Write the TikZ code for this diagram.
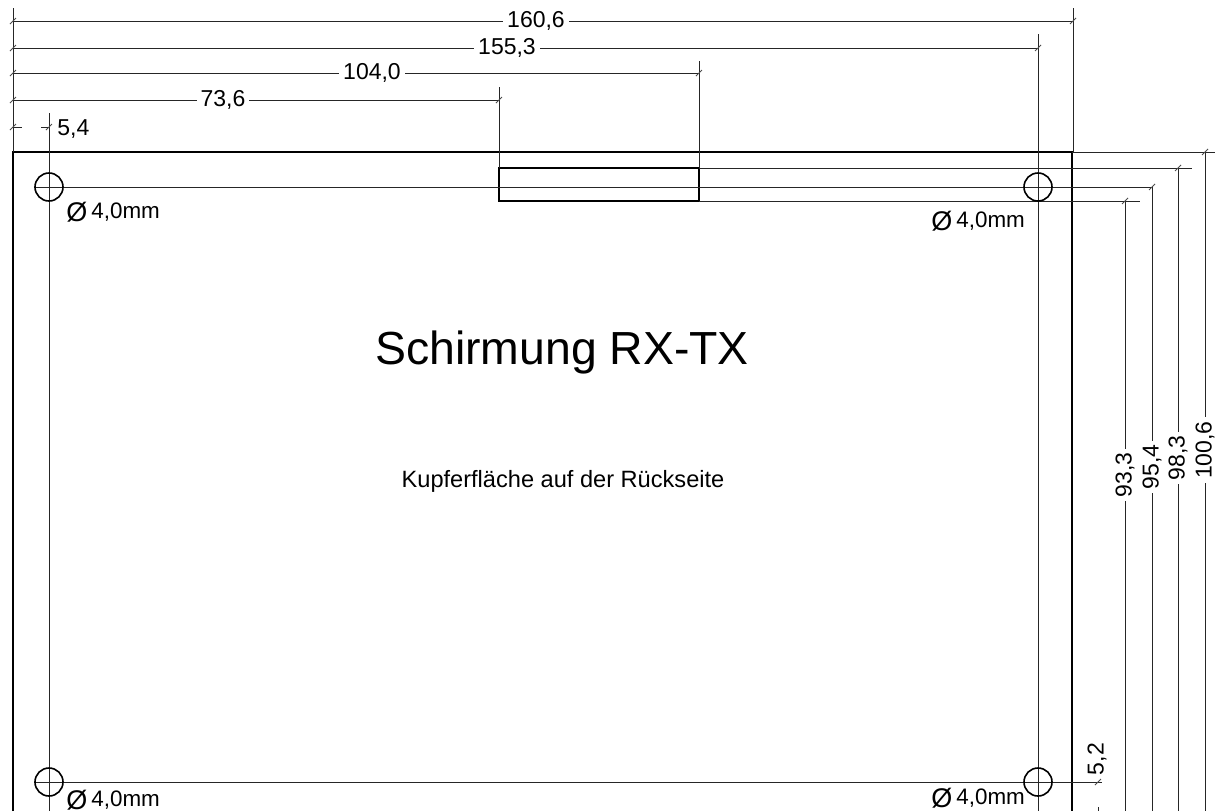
\documentclass[tikz,border=0pt]{standalone}
\usepackage{fontspec}
\setmainfont{Liberation Sans}
\newcommand{\holedia}{\raisebox{-1.5pt}{\fontsize{13.5}{12}\selectfont Ø}\hspace{2pt}4,0mm}
\tikzset{
  dimline/.style={line width=0.5pt, color=black!85},
  tickline/.style={line width=0.4pt, color=black!70},
  outline/.style={line width=1pt},
  dimlabel/.style={fill=white, inner xsep=2pt, inner ysep=0pt, font=\fontsize{11.5}{12}\selectfont},
  holelabel/.style={anchor=west, inner sep=0pt, font=\fontsize{11.2}{12}\selectfont},
}
\begin{document}
\begin{tikzpicture}[x=0.5pt, y=-0.5pt]
    \useasboundingbox (0, 0) rectangle (1215, 811);

    % board and cut-out
    \draw [outline] (13, 811) -- (13, 152) -- (1072, 152) -- (1072, 811);
    \draw [outline] (499, 168) rectangle (699, 201);

    % extension lines
    \draw [dimline] (13, 8) -- (13, 152);
    \draw [dimline] (1073, 8) -- (1073, 152);
    \draw [dimline] (1038, 34) -- (1038, 811);
    \draw [dimline] (699, 61) -- (699, 168);
    \draw [dimline] (499, 87) -- (499, 168);
    \draw [dimline] (49, 113) -- (49, 811);
    \draw [dimline] (1072, 152) -- (1215, 152);
    \draw [dimline] (699, 168) -- (1192, 168);
    \draw [dimline] (34, 187) -- (1153, 187);
    \draw [dimline] (699, 201) -- (1140, 201);
    \draw [dimline] (34, 782) -- (1102, 782);

    % dimension lines
    \draw [dimline] (13, 21) -- (1073, 21);
    \draw [dimline] (13, 48) -- (1038, 48);
    \draw [dimline] (13, 73) -- (699, 73);
    \draw [dimline] (13, 100) -- (499, 100);
    \draw [dimline] (13, 127) -- (22, 127);
    \draw [dimline] (41, 127) -- (49, 127);
    \draw [dimline] (1125, 201) -- (1125, 811);
    \draw [dimline] (1152, 187) -- (1152, 811);
    \draw [dimline] (1178, 168) -- (1178, 811);
    \draw [dimline] (1205, 152) -- (1205, 811);
    \draw [dimline] (1098, 807) -- (1098, 811);

    % ticks
    \foreach \tx/\ty in {13/21, 13/48, 13/73, 13/100, 13/127, 1073/21, 1038/48, 699/73, 499/100, 49/127,
                         1125/201, 1152/187, 1178/168, 1205/152, 1098/782}
      \draw [tickline, shift={(\tx, \ty)}] (-3, 3) -- (3, -3);

    % holes
    \foreach \hx/\hy in {49/187, 1038/187, 49/782, 1038/782}
      \draw [line width=0.8pt] (\hx, \hy) circle [radius=14];

    \node [dimlabel] (len1606) at (536, 21) {160,6};
    \node [dimlabel] (len1553) at (507, 48) {155,3};
    \node [dimlabel] (len1040) at (372, 73) {104,0};
    \node [dimlabel] (len736) at (223, 100) {73,6};
    \node [dimlabel, anchor=west, inner xsep=0pt] (len54) at (57, 129) {5,4};
    \node [dimlabel, rotate=90] (hgt933) at (1125, 475) {93,3};
    \node [dimlabel, rotate=90] (hgt954) at (1152, 467) {95,4};
    \node [dimlabel, rotate=90] (hgt983) at (1178, 458) {98,3};
    \node [dimlabel, rotate=90] (hgt1006) at (1205, 450) {100,6};
    \node [dimlabel, rotate=90, fill=none] (hgt52) at (1097, 759) {5,2};

    \node [holelabel] (holeTL) at (66, 212) {\holedia};
    \node [holelabel] (holeTR) at (931, 221) {\holedia};
    \node [holelabel] (holeBL) at (66, 800) {\holedia};
    \node [holelabel] (holeBR) at (931, 798) {\holedia};

    \node [font=\fontsize{23.2}{26}\selectfont] (title) at (562, 352) {Schirmung RX-TX};
    \node [font=\fontsize{11.8}{14}\selectfont] (note) at (563, 481) {Kupferfläche auf der Rückseite};
  \end{tikzpicture}
\end{document}
